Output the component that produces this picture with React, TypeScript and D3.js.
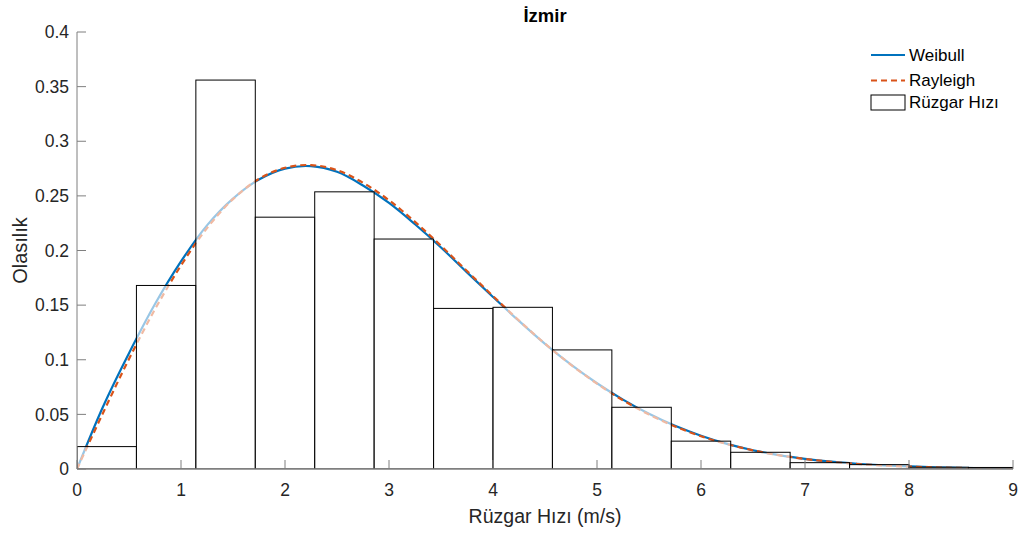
import React from "react";
import * as d3 from "d3";

// Histogram (bin width 4/7 m/s)
const binEdges = [0, 4 / 7, 8 / 7, 12 / 7, 16 / 7, 20 / 7, 24 / 7, 28 / 7, 32 / 7, 36 / 7, 40 / 7, 44 / 7, 48 / 7, 52 / 7, 56 / 7, 60 / 7, 64 / 7];
const binValues = [0.0205, 0.168, 0.356, 0.2305, 0.2537, 0.2105, 0.147, 0.148, 0.109, 0.0565, 0.0255, 0.0153, 0.0058, 0.004, 0.0016, 0.0014];

// Fitted curves
const curveX = [0, 0.25, 0.5, 0.75, 1, 1.25, 1.5, 1.75, 2, 2.25, 2.5, 2.75, 3, 3.25, 3.5, 3.75, 4, 4.25, 4.5, 4.75, 5, 5.25, 5.5, 5.75, 6, 6.25, 6.5, 6.75, 7, 7.25, 7.5, 7.75, 8, 8.25, 8.5, 8.75, 9];
const weibullY = [0, 0.057, 0.106, 0.151, 0.19, 0.223, 0.2475, 0.265, 0.275, 0.2772, 0.272, 0.2595, 0.2435, 0.224, 0.2028, 0.18, 0.1575, 0.1355, 0.1145, 0.0955, 0.0785, 0.0635, 0.0505, 0.0395, 0.0305, 0.023, 0.0172, 0.0127, 0.0093, 0.0067, 0.0048, 0.0034, 0.0024, 0.0016, 0.0011, 0.0007, 0.0005];
const rayleighY = [0, 0.0513, 0.1007, 0.1462, 0.1863, 0.2205, 0.247, 0.2655, 0.2757, 0.2782, 0.2735, 0.262, 0.246, 0.2262, 0.2043, 0.1812, 0.1583, 0.1359, 0.1147, 0.0954, 0.0781, 0.0629, 0.0499, 0.039, 0.03, 0.0228, 0.0171, 0.0126, 0.0092, 0.0066, 0.0046, 0.0032, 0.0022, 0.0015, 0.001, 0.0007, 0.0004];

const xTicks = [0, 1, 2, 3, 4, 5, 6, 7, 8, 9];
const yTicks = [0, 0.05, 0.1, 0.15, 0.2, 0.25, 0.3, 0.35, 0.4];

const title = "İzmir";
const xLabel = "Rüzgar Hızı (m/s)";
const yLabel = "Olasılık";
const legendLabels = ["Weibull", "Rayleigh", "Rüzgar Hızı"];

const W = 1019;
const H = 533;
const left = 77;
const right = 1013;
const top = 32;
const bottom = 469;
const font = "'Liberation Sans', Arial, Helvetica, sans-serif";
const textColor = "#262626";
const axisColor = "#7f7f7f";

export default function App() {
  const x = d3.scaleLinear().domain([0, 9]).range([left, right]);
  const y = d3.scaleLinear().domain([0, 0.4]).range([bottom, top]);

  const line = (ys: number[]) =>
    d3
      .line<number>()
      .x((_, i) => x(curveX[i]))
      .y((d) => y(d))
      .curve(d3.curveCatmullRom.alpha(0.5))(ys) || "";

  const bins = binValues.map((v, i) => ({ x0: binEdges[i], x1: Math.min(binEdges[i + 1], 9), v }));

  return (
    <svg width={W} height={H} style={{ position: "absolute", left: 0, top: 0, background: "#fff" }}>
      <rect x={0} y={0} width={W} height={H} fill="#fff" />
      <defs>
        <clipPath id="plot">
          <rect x={left} y={top} width={right - left} height={bottom - top} />
        </clipPath>
      </defs>
      <g clipPath="url(#plot)">
        <path d={line(weibullY)} fill="none" stroke="#0072BD" strokeWidth={2.2} />
        <path d={line(rayleighY)} fill="none" stroke="#D95319" strokeWidth={2.2} strokeDasharray="6,4" />
        {bins.map((b, i) => (
          <rect
            key={i}
            x={x(b.x0)}
            y={y(b.v)}
            width={x(b.x1) - x(b.x0)}
            height={y(0) - y(b.v)}
            fill="#fff"
            fillOpacity={0.6}
            stroke="#000"
            strokeWidth={1}
          />
        ))}
      </g>
      {/* axes */}
      <line x1={left} x2={left} y1={top} y2={bottom} stroke={axisColor} strokeWidth={1} />
      <line x1={left} x2={right} y1={bottom} y2={bottom} stroke={axisColor} strokeWidth={1.5} />
      {yTicks.map((t) => (
        <g key={"y" + t}>
          <line x1={left} x2={left + 9} y1={y(t)} y2={y(t)} stroke={axisColor} />
          <text x={left - 8} y={y(t)} dy="0.35em" textAnchor="end" fontFamily={font} fontSize={17.5} fill={textColor}>
            {String(t)}
          </text>
        </g>
      ))}
      {xTicks.map((t) => (
        <g key={"x" + t}>
          <line x1={x(t)} x2={x(t)} y1={bottom} y2={bottom - 9} stroke={axisColor} />
          <text x={x(t)} y={bottom + 27} textAnchor="middle" fontFamily={font} fontSize={17.5} fill={textColor}>
            {String(t)}
          </text>
        </g>
      ))}
      <text x={(left + right) / 2} y={523} textAnchor="middle" fontFamily={font} fontSize={19.5} fill={textColor}>
        {xLabel}
      </text>
      <text
        transform={`translate(27,${(top + bottom) / 2}) rotate(-90)`}
        textAnchor="middle"
        fontFamily={font}
        fontSize={20}
        fill={textColor}
      >
        {yLabel}
      </text>
      <text x={(left + right) / 2} y={22} textAnchor="middle" fontFamily={font} fontSize={18.5} fontWeight="bold" fill="#000">
        {title}
      </text>
      {/* legend */}
      <g fontFamily={font} fontSize={17} fill="#000">
        <line x1={871} x2={905} y1={55} y2={55} stroke="#0072BD" strokeWidth={2.2} />
        <text x={909} y={55} dy="0.35em">{legendLabels[0]}</text>
        <line x1={871} x2={905} y1={80.5} y2={80.5} stroke="#D95319" strokeWidth={2.2} strokeDasharray="6,4" />
        <text x={909} y={80.5} dy="0.35em">{legendLabels[1]}</text>
        <rect x={871} y={95} width={34} height={15} fill="#fff" stroke="#000" strokeWidth={1} />
        <text x={909} y={102.5} dy="0.35em">{legendLabels[2]}</text>
      </g>
    </svg>
  );
}
